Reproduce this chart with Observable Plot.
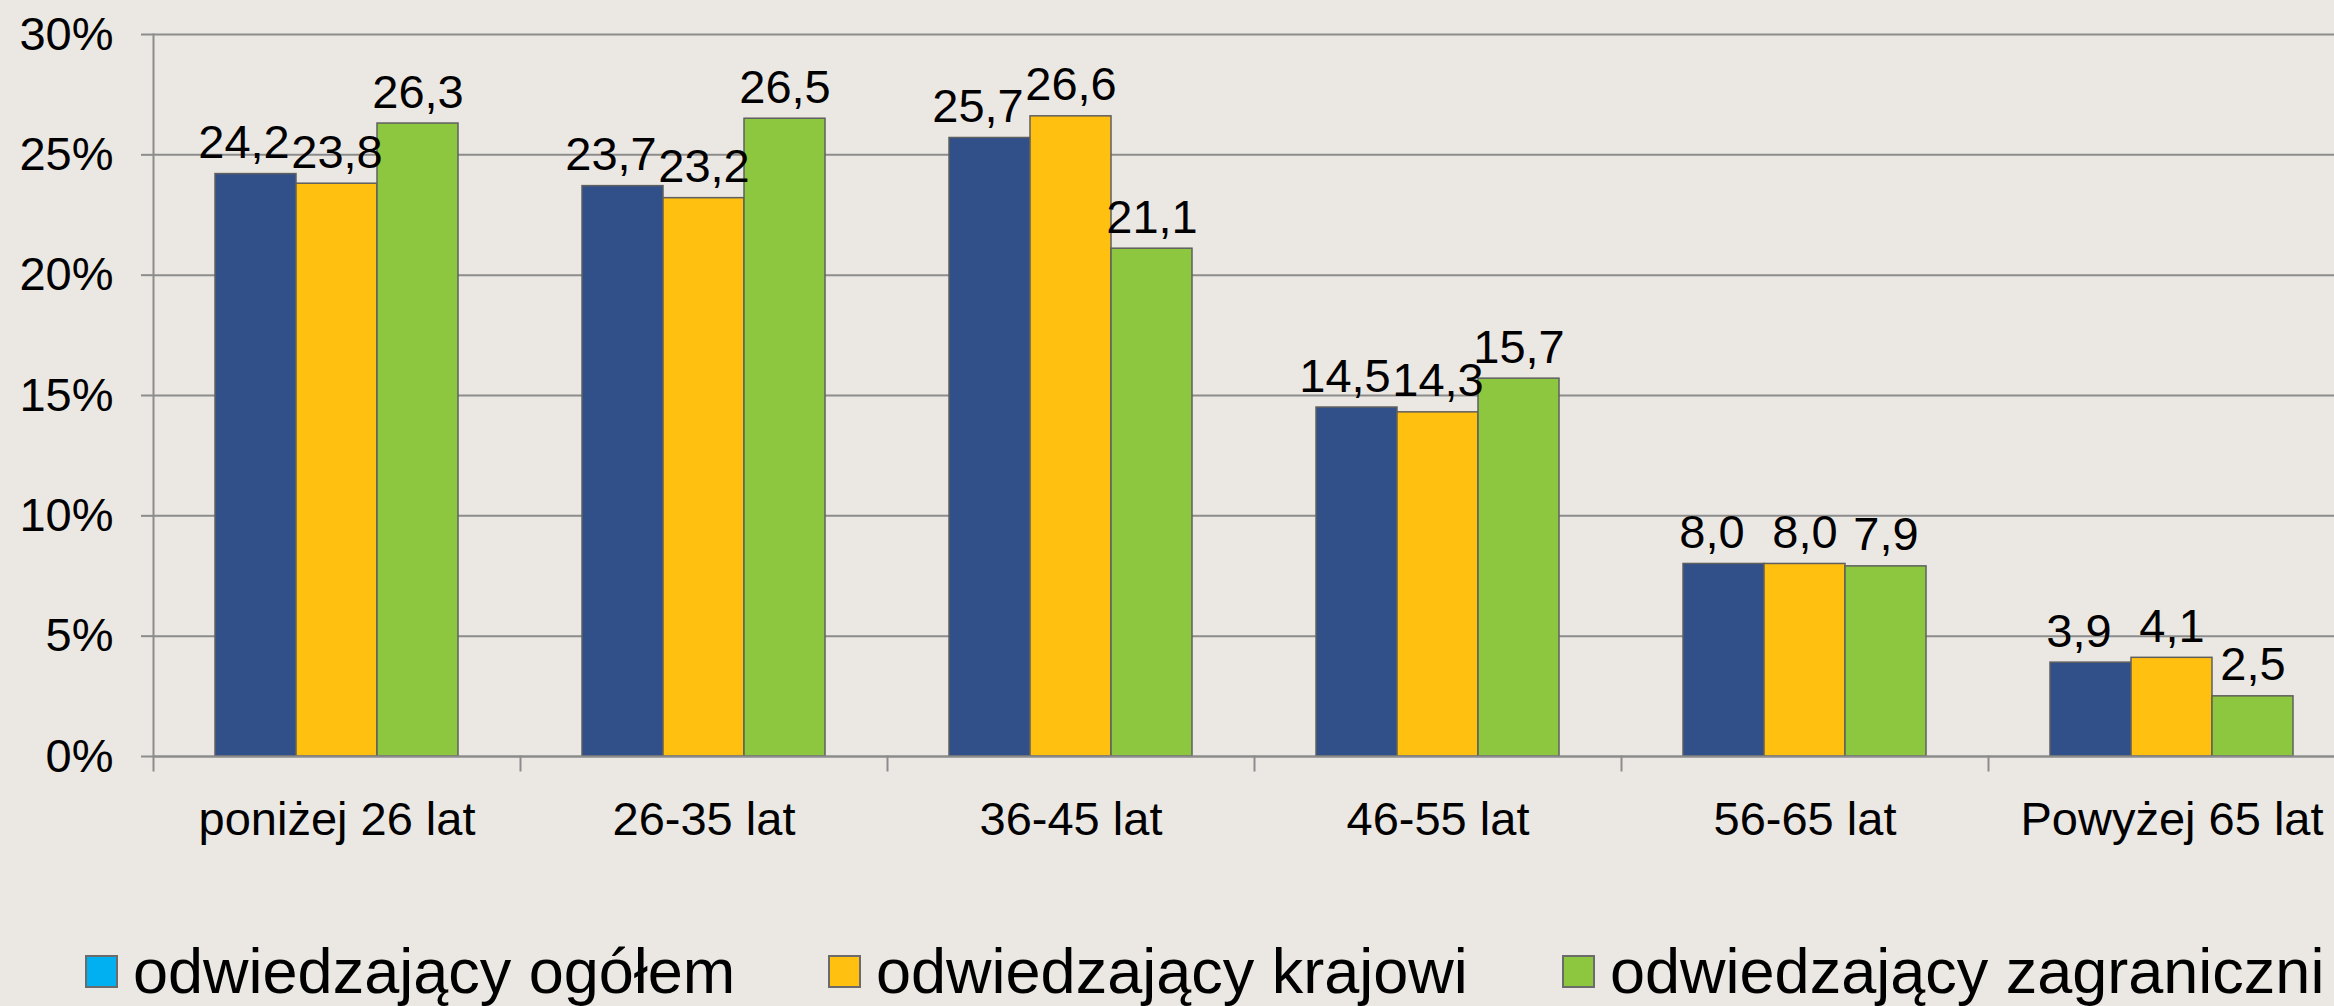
<!DOCTYPE html>
<html>
<head>
<meta charset="utf-8">
<script src="https://cdn.jsdelivr.net/npm/d3@7"></script>
<script src="https://cdn.jsdelivr.net/npm/@observablehq/plot@0.6"></script>
<style>
  html, body { margin: 0; padding: 0; background: #ebe8e3; overflow: hidden; width: 2334px; height: 1006px; }
  #chart svg { display: block; max-width: none; }
  #legend { position: relative; height: 150px; font-family: "Liberation Sans", Arial, sans-serif; font-size: 63px; color: #000; }
  .item { position: absolute; top: 80px; display: flex; align-items: center; line-height: 70px; white-space: nowrap; }
  .sw { width: 33px; height: 33px; border: 2px solid #6b6b6b; margin-right: 15px; box-sizing: border-box; }
</style>
</head>
<body>
<div id="chart"></div>
<div id="legend"></div>
<script>
const categories = ["poniżej 26 lat", "26-35 lat", "36-45 lat", "46-55 lat", "56-65 lat", "Powyżej 65 lat"];
const series = ["odwiedzający ogółem", "odwiedzający krajowi", "odwiedzający zagraniczni"];
const ogolem = [24.2, 23.7, 25.7, 14.5, 8.0, 3.9];
const krajowi = [23.8, 23.2, 26.6, 14.3, 8.0, 4.1];
const zagraniczni = [26.3, 26.5, 21.1, 15.7, 7.9, 2.5];
const yTicks = [0, 5, 10, 15, 20, 25, 30];
const barColors = ["#31508a", "#ffc010", "#8dc63f"];
const legendColors = ["#00b0f0", "#ffc010", "#8dc63f"];

const seriesValues = [ogolem, krajowi, zagraniczni];
const data = [];
categories.forEach((c, i) => series.forEach((s, j) => data.push({cat: c, series: s, value: seriesValues[j][i]})));

const fmt = v => v.toFixed(1).replace(".", ",");
const font = "Liberation Sans, Arial, sans-serif";
const gray = "#8c8c8c";

const W = 2360, H = 856, mTop = 34, mBottom = 100;
const frameH = H - mTop - mBottom;

const labelOpts = {fx: "cat", x: "series", y: "value", text: d => fmt(d.value), lineAnchor: "bottom", dy: -16, fontSize: 47, fill: "#000"};

const chart = Plot.plot({
  width: W,
  height: H,
  marginTop: mTop,
  marginBottom: mBottom,
  marginLeft: 153,
  marginRight: 5,
  style: {background: "transparent", fontFamily: font, color: "#000"},
  fx: {domain: categories, padding: 0, label: null},
  x: {domain: series, paddingInner: 0, paddingOuter: 0.75, axis: null},
  y: {domain: [0, 30], label: null},
  color: {domain: series, range: barColors},
  marks: [
    Plot.gridY(yTicks, {stroke: gray, strokeOpacity: 1, strokeWidth: 2}),
    Plot.frame({anchor: "left", facetAnchor: "left", stroke: gray, strokeWidth: 2}),
    Plot.frame({anchor: "left", stroke: gray, strokeWidth: 2, insetTop: frameH, insetBottom: -14}),
    Plot.axisY(yTicks, {tickSize: 12, tickPadding: 28, tickFormat: d => d + "%", fontSize: 47, stroke: gray, strokeWidth: 2, label: null}),
    Plot.axisFx({anchor: "bottom", tickSize: 0, tickPadding: 45, fontSize: 47, label: null}),
    Plot.barY(data, {fx: "cat", x: "series", y: "value", fill: "series", stroke: "#5f5f5f", strokeWidth: 1.5}),
    Plot.ruleY([0], {stroke: gray, strokeWidth: 2}),
    Plot.text(data.filter(d => d.series === series[0]), {...labelOpts, dx: -12}),
    Plot.text(data.filter(d => d.series !== series[0]), labelOpts)
  ]
});
document.getElementById("chart").appendChild(chart);

const legendX = [85, 828, 1562];
const legend = document.getElementById("legend");
series.forEach((s, i) => {
  const it = document.createElement("div");
  it.className = "item";
  it.style.left = legendX[i] + "px";
  const sw = document.createElement("div");
  sw.className = "sw";
  sw.style.background = legendColors[i];
  const t = document.createElement("span");
  t.textContent = s;
  it.appendChild(sw);
  it.appendChild(t);
  legend.appendChild(it);
});
</script>
</body>
</html>
